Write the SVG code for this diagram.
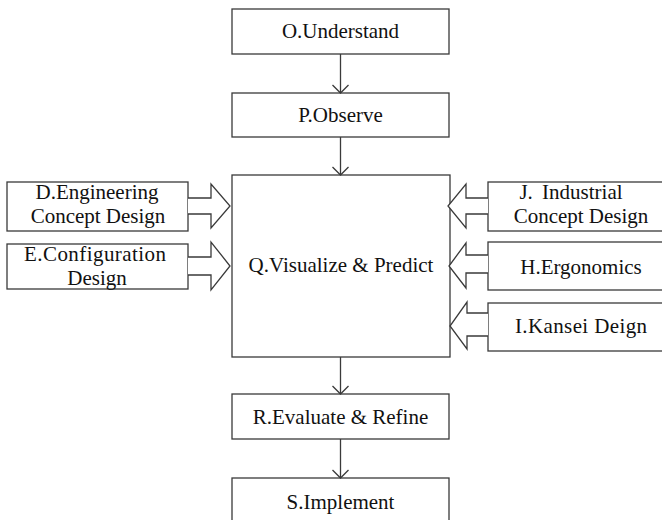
<svg xmlns="http://www.w3.org/2000/svg" width="662" height="520" viewBox="0 0 662 520">
  <style>
    .box { fill: #ffffff; stroke: #3a3a3a; stroke-width: 1.3; }
    .lbl { font-family: 'Liberation Serif', 'Times New Roman', serif; font-size: 21px; fill: #111111; text-anchor: middle; }
    .flow { fill: none; stroke: #3a3a3a; stroke-width: 1.3; }
    .block { fill: #ffffff; stroke: #3a3a3a; stroke-width: 1.3; stroke-linejoin: miter; }
  </style>
  <defs>
    <marker id="vee" markerUnits="userSpaceOnUse" markerWidth="20" markerHeight="20" refX="10" refY="10" orient="auto" viewBox="0 0 20 20">
      <path d="M2,2 L10,10 L2,18" fill="none" stroke="#3a3a3a" stroke-width="1.3"/>
    </marker>
  </defs>

  <rect width="662" height="520" fill="#ffffff"/>

  <!-- main column -->
  <g id="node-O">
    <rect class="box" x="232" y="9" width="217" height="45"/>
    <text class="lbl" x="340.5" y="38">O.Understand</text>
  </g>
  <g id="node-P">
    <rect class="box" x="232" y="93" width="217" height="44"/>
    <text class="lbl" x="340.5" y="122">P.Observe</text>
  </g>
  <g id="node-Q">
    <rect class="box" x="232" y="175" width="218" height="182"/>
    <text class="lbl" x="341" y="272">Q.Visualize &amp; Predict</text>
  </g>
  <g id="node-R">
    <rect class="box" x="232" y="394" width="217" height="45"/>
    <text class="lbl" x="340.5" y="424">R.Evaluate &amp; Refine</text>
  </g>
  <g id="node-S">
    <rect class="box" x="232" y="478" width="217" height="50"/>
    <text class="lbl" x="340.5" y="509">S.Implement</text>
  </g>

  <!-- left inputs -->
  <g id="node-D">
    <rect class="box" x="7" y="182" width="181" height="49"/>
    <text class="lbl" x="97" y="199">D.Engineering</text>
    <text class="lbl" x="98" y="223">Concept Design</text>
  </g>
  <g id="node-E">
    <rect class="box" x="7" y="244" width="181" height="45"/>
    <text class="lbl" x="95" y="261" textLength="142" lengthAdjust="spacing">E.Configuration</text>
    <text class="lbl" x="97" y="285">Design</text>
  </g>

  <!-- right inputs -->
  <g id="node-J">
    <rect class="box" x="488" y="182" width="185" height="49"/>
    <text class="lbl" x="571" y="199" word-spacing="4">J. Industrial</text>
    <text class="lbl" x="581" y="223">Concept Design</text>
  </g>
  <g id="node-H">
    <rect class="box" x="488" y="242" width="185" height="48"/>
    <text class="lbl" x="581" y="274">H.Ergonomics</text>
  </g>
  <g id="node-I">
    <rect class="box" x="488" y="303" width="185" height="48"/>
    <text class="lbl" x="581" y="333" textLength="132" lengthAdjust="spacing">I.Kansei Deign</text>
  </g>

  <!-- connectors -->
  <g id="connectors">
    <line class="flow" x1="340.5" y1="54" x2="340.5" y2="93" marker-end="url(#vee)"/>
    <line class="flow" x1="340.5" y1="137" x2="340.5" y2="175" marker-end="url(#vee)"/>
    <line class="flow" x1="340.5" y1="357" x2="340.5" y2="394" marker-end="url(#vee)"/>
    <line class="flow" x1="340.5" y1="439" x2="340.5" y2="478" marker-end="url(#vee)"/>

    <!-- block arrows into Q from the left -->
    <path class="block" d="M188,198 L211,198 L211,184 L230,206 L211,228 L211,214 L188,214"/>
    <path class="block" d="M188,257 L211,257 L211,242 L230,266 L211,290 L211,275 L188,275"/>

    <!-- block arrows into Q from the right -->
    <path class="block" d="M488,198 L466,198 L466,184 L448,206 L466,228 L466,214 L488,214"/>
    <path class="block" d="M488,255 L466,255 L466,243 L449,266 L466,288 L466,273 L488,273"/>
    <path class="block" d="M488,313 L467,313 L467,302 L450,326 L467,349 L467,336 L488,336"/>
  </g>
</svg>
